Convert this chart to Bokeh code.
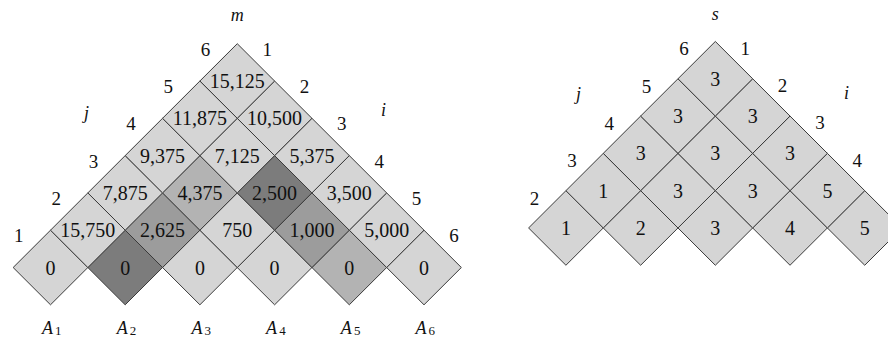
from bokeh.plotting import figure
from bokeh.models import Range1d
from bokeh.core.properties import value
from bokeh.embed import file_html
from bokeh.resources import INLINE

# ---------------- data ----------------
# m table, one list per diagonal d = j - i (cells i = 1 .. 6-d)
m_diag0 = [0, 0, 0, 0, 0, 0]
m_diag1 = [15750, 2625, 750, 1000, 5000]
m_diag2 = [7875, 4375, 2500, 3500]
m_diag3 = [9375, 7125, 5375]
m_diag4 = [11875, 10500]
m_diag5 = [15125]
m_table = [m_diag0, m_diag1, m_diag2, m_diag3, m_diag4, m_diag5]

# s table, one list per diagonal d = j - i (d = 1..5)
s_diag1 = [1, 2, 3, 4, 5]
s_diag2 = [1, 3, 3, 5]
s_diag3 = [3, 3, 3]
s_diag4 = [3, 3]
s_diag5 = [3]
s_table = [s_diag1, s_diag2, s_diag3, s_diag4, s_diag5]

# shaded cells of m (used to compute m[2,5]); level 1 = darkest
shade_i = [2, 3, 2, 4, 2, 5]
shade_j = [2, 5, 3, 5, 4, 5]
shade_level = [1, 1, 2, 2, 3, 3]

matrix_names = ["A", "A", "A", "A", "A", "A"]
matrix_index = ["1", "2", "3", "4", "5", "6"]
n = 6

# ---------------- style ----------------
base_fill = "#d5d5d5"
shade_colors = {1: "#7c7c7c", 2: "#9c9c9c", 3: "#b3b3b3"}
edge_color = "#3a3a3a"
serif = "Liberation Serif"

W, H = 888, 339
px_x, px_y = 74.7, 37.3
x_start = 1 - 50 / px_x
y_end = 267 / px_y
s_dx, s_dy = 6.4, 0.06

p = figure(width=W, height=H, output_backend="svg", toolbar_location=None,
           x_range=Range1d(x_start, x_start + W / px_x),
           y_range=Range1d(y_end - H / px_y, y_end),
           min_border=0)
p.axis.visible = False
p.grid.visible = False
p.outline_line_color = None
p.background_fill_color = "white"
p.border_fill_color = "white"


def diamond(cx, cy):
    return [cx - 0.5, cx, cx + 0.5, cx], [cy, cy + 1, cy, cy - 1]


shade_map = {(a, b): lv for a, b, lv in zip(shade_i, shade_j, shade_level)}

# ---- m triangle ----
xs, ys, fills, tx, ty, tt = [], [], [], [], [], []
for d, row in enumerate(m_table):
    for k, v in enumerate(row):
        i = k + 1
        j = i + d
        cx, cy = (i + j) / 2, d
        dx_, dy_ = diamond(cx, cy)
        xs.append(dx_); ys.append(dy_)
        lv = shade_map.get((i, j))
        fills.append(shade_colors[lv] if lv else base_fill)
        tx.append(cx); ty.append(cy); tt.append(f"{v:,}")

# ---- s triangle ----
for d, row in enumerate(s_table, start=1):
    for k, v in enumerate(row):
        i = k + 1
        j = i + d
        cx, cy = (i + j) / 2 + s_dx, d + s_dy
        dx_, dy_ = diamond(cx, cy)
        xs.append(dx_); ys.append(dy_)
        fills.append(base_fill)
        tx.append(cx); ty.append(cy); tt.append(str(v))

p.patches(xs=xs, ys=ys, fill_color=fills, line_color=edge_color, line_width=1)
p.text(x=tx, y=ty, text=tt, text_font=value(serif), text_font_size="20px",
       text_align="center", text_baseline="middle", text_color="#111111")

# ---- index labels ----
lx, ly, lt = [], [], []
for k in range(1, n + 1):
    cx, cy = (1 + k) / 2, k - 1
    lx.append(cx - 0.424); ly.append(cy + 0.85); lt.append(str(k))
    cx, cy = (k + n) / 2, n - k
    lx.append(cx + 0.40); ly.append(cy + 0.85); lt.append(str(k))
for k in range(2, n + 1):
    cx, cy = (1 + k) / 2 + s_dx, k - 1 + s_dy
    lx.append(cx - 0.42); ly.append(cy + 0.80); lt.append(str(k))
for k in range(1, n - 1):
    cx, cy = (k + n) / 2 + s_dx, n - k + s_dy
    lx.append(cx + 0.40); ly.append(cy + 0.82); lt.append(str(k))
p.text(x=lx, y=ly, text=lt, text_font=value(serif), text_font_size="19px",
       text_align="center", text_baseline="middle", text_color="#111111")

# ---- italic titles ----
p.text(x=[3.5, 3.5 + s_dx, 1.482, 5.458, 1.668 + s_dx, 5.256 + s_dx],
       y=[6.78, 6.80, 4.155, 4.21, 4.64, 4.69],
       text=["m", "s", "j", "i", "j", "i"],
       text_font=value(serif), text_font_style="italic", text_font_size="18px",
       text_align="center", text_baseline="middle", text_color="#111111")

# ---- matrix labels A_k ----
cols = [k + 1 for k in range(n)]
p.text(x=[c - 0.04 for c in cols], y=[-1.61] * n, text=matrix_names,
       text_font=value(serif), text_font_style="italic", text_font_size="18px",
       text_align="center", text_baseline="middle", text_color="#111111")
p.text(x=[c + 0.105 for c in cols], y=[-1.70] * n, text=matrix_index,
       text_font=value(serif), text_font_size="13px",
       text_align="center", text_baseline="middle", text_color="#111111")

open("out.html", "w").write(file_html(p, INLINE))
